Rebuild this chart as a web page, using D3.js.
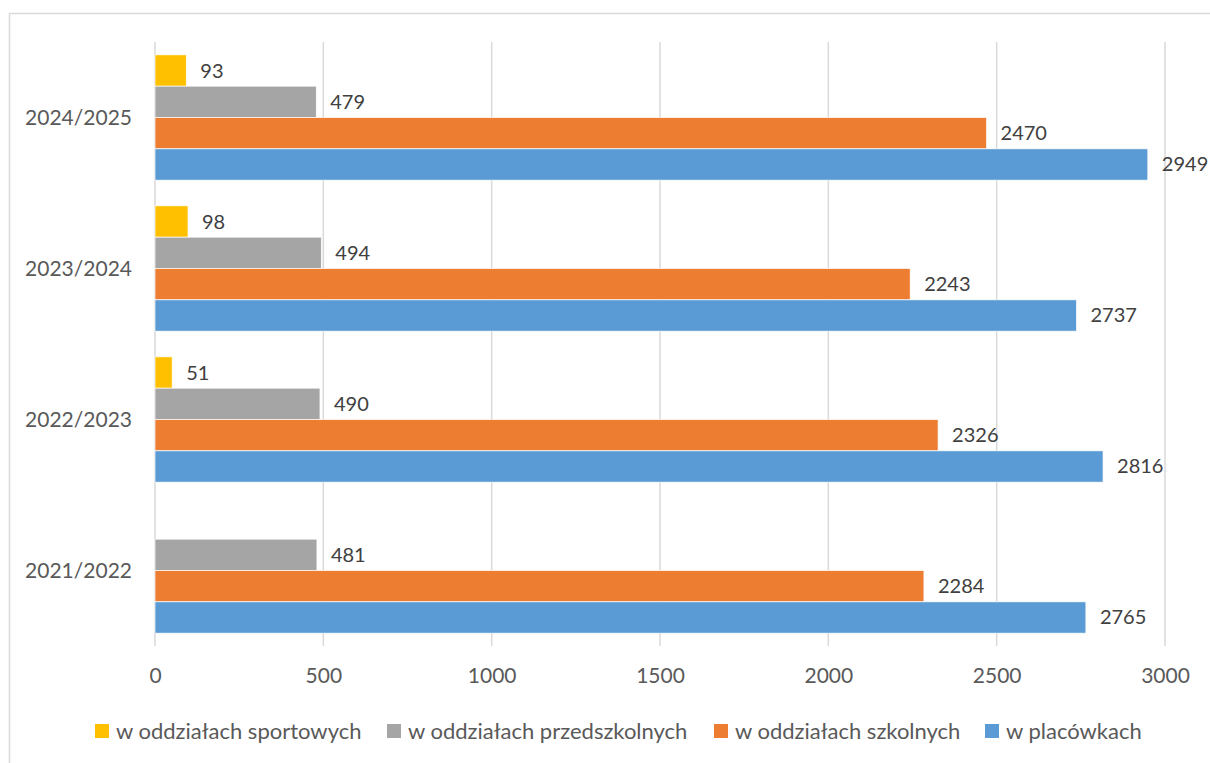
<!DOCTYPE html>
<html>
<head>
<meta charset="utf-8">
<script src="https://cdn.jsdelivr.net/npm/d3@7"></script>
<style>
    body { margin: 0; background: #fff; }
    text { font-family: Lato, "Open Sans", sans-serif; }
</style>
</head>
<body>
<svg id="chart" width="1210" height="763"></svg>
<script>
// categories, top to bottom as drawn
let years = ["2024/2025", "2023/2024", "2022/2023", "2021/2022"];
let seriesNames = ["w oddziałach sportowych", "w oddziałach przedszkolnych", "w oddziałach szkolnych", "w placówkach"];
let seriesColors = ["#FFC000", "#A5A5A5", "#ED7D31", "#5B9BD5"];

// values per year, same order as years
let sportowe = [93, 98, 51, null];
let przedszkolne = [479, 494, 490, 481];
let szkolne = [2470, 2243, 2326, 2284];
let placowki = [2949, 2737, 2816, 2765];
let xTicks = [0, 500, 1000, 1500, 2000, 2500, 3000];

let seriesValues = [sportowe, przedszkolne, szkolne, placowki];

let svg = d3.select("#chart");

// chart border
svg.append("rect")
    .attr("x", 9.5).attr("y", 13.5)
    .attr("width", 1220).attr("height", 770)
    .attr("fill", "none")
    .attr("stroke", "#D9D9D9")
    .attr("stroke-width", 1.5);

let x = d3.scaleLinear().domain([0, 3000]).range([155, 1165]);

let y = d3.scaleBand()
    .domain(years)
    .range([42, 646])
    .paddingInner(0.17)
    .paddingOuter(0.085);

let ySeries = d3.scaleBand()
    .domain(seriesNames)
    .range([0, y.bandwidth()]);

// vertical gridlines
svg.append("g")
    .selectAll("line")
    .data(xTicks)
    .enter().append("line")
    .attr("x1", d => x(d)).attr("x2", d => x(d))
    .attr("y1", 42).attr("y2", 646)
    .attr("stroke", "#D9D9D9")
    .attr("stroke-width", 1.5);

// flatten into bar records
let bars = [];
years.forEach(function(yr, i) {
    seriesNames.forEach(function(s, j) {
        let v = seriesValues[j][i];
        if (v != null) bars.push({year: yr, series: s, color: seriesColors[j], value: v});
    });
});

let g = svg.append("g");

g.selectAll("rect")
    .data(bars)
    .enter().append("rect")
    .attr("x", x(0))
    .attr("y", d => y(d.year) + ySeries(d.series))
    .attr("width", d => x(d.value) - x(0))
    .attr("height", ySeries.bandwidth())
    .attr("fill", d => d.color)
    .attr("stroke", "#fff")
    .attr("stroke-width", 0.7);

g.selectAll("text")
    .data(bars)
    .enter().append("text")
    .attr("x", d => x(d.value) + 14)
    .attr("y", d => y(d.year) + ySeries(d.series) + ySeries.bandwidth() / 2)
    .attr("dy", "0.35em")
    .attr("fill", "#404040")
    .style("font-size", "20px")
    .text(d => d.value);

// category labels
svg.append("g")
    .selectAll("text")
    .data(years)
    .enter().append("text")
    .attr("x", 132)
    .attr("y", d => y(d) + y.bandwidth() / 2)
    .attr("dy", "0.35em")
    .attr("text-anchor", "end")
    .attr("fill", "#595959")
    .style("font-size", "21px")
    .text(d => d);

// x axis labels
let xAxis = d3.axisBottom(x).tickValues(xTicks).tickFormat(d3.format("d")).tickSize(0).tickPadding(22);
let axisG = svg.append("g")
    .attr("transform", "translate(0,646)")
    .call(xAxis);
axisG.select(".domain").remove();
axisG.selectAll("text")
    .attr("fill", "#595959")
    .style("font-size", "21px")
    .style("font-family", "Lato, 'Open Sans', sans-serif");

// legend
let legendX = [95, 387, 714, 985];
let legend = svg.append("g")
    .selectAll("g")
    .data(seriesNames)
    .enter().append("g")
    .attr("transform", (d, i) => "translate(" + legendX[i] + ",724)");

legend.append("rect")
    .attr("width", 14).attr("height", 14)
    .attr("fill", (d, i) => seriesColors[i]);

legend.append("text")
    .attr("x", 21)
    .attr("y", 7)
    .attr("dy", "0.35em")
    .attr("fill", "#595959")
    .style("font-size", "22px")
    .text(d => d);
</script>
</body>
</html>
